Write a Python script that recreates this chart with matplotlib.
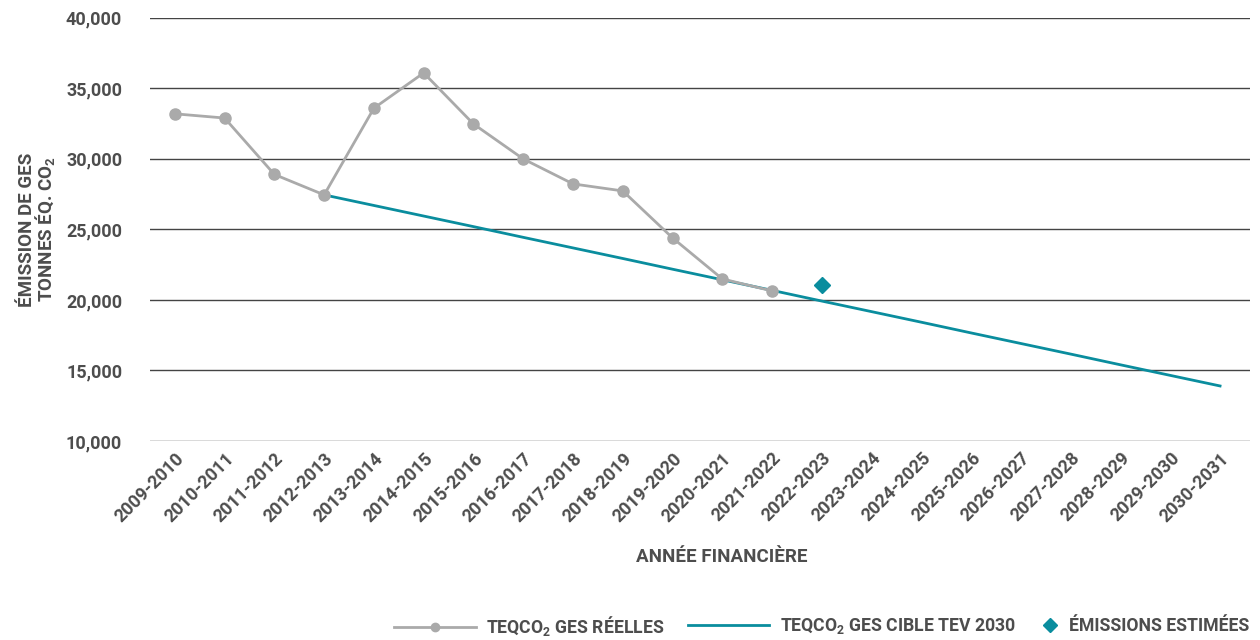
import matplotlib
matplotlib.use("Agg")
import matplotlib.pyplot as plt
from matplotlib.ticker import FuncFormatter
from matplotlib.lines import Line2D

plt.rcParams['font.family'] = ['Roboto', 'DejaVu Sans']
plt.rcParams['font.weight'] = 'bold'
plt.rcParams['axes.labelweight'] = 'bold'

years = ["2009-2010", "2010-2011", "2011-2012", "2012-2013", "2013-2014", "2014-2015",
         "2015-2016", "2016-2017", "2017-2018", "2018-2019", "2019-2020", "2020-2021",
         "2021-2022", "2022-2023", "2023-2024", "2024-2025", "2025-2026", "2026-2027",
         "2027-2028", "2028-2029", "2029-2030", "2030-2031"]

# actual emissions, 2009-2010 .. 2021-2022
actual = [33200, 32900, 28900, 27450, 33600, 36100, 32480, 30000, 28230, 27730,
          24400, 21490, 20640]

# target path, 2012-2013 .. 2030-2031
target = [27450, 26700, 25950, 25200, 24440, 23690, 22940, 22180, 21430, 20680,
          19920, 19170, 18420, 17660, 16910, 16160, 15400, 14650, 13900]

estimated_year = "2022-2023"
estimated = 21080

text_col = "#4d4d4d"
gray = "#aaaaaa"
teal = "#0a8d9e"

fig = plt.figure(figsize=(12.6, 6.4), dpi=100)
ax = fig.add_axes([0.119, 0.311, 0.873, 0.661])

x_actual = list(range(len(actual)))
x_target = list(range(3, 3 + len(target)))
x_est = years.index(estimated_year)

ax.plot(x_target, target, color=teal, lw=2, zorder=3)
ax.plot(x_actual, actual, color=gray, lw=2, marker="o", ms=8, zorder=4)
ax.plot([x_est], [estimated], color=teal, marker="D", ms=8, ls="none", zorder=5)

ax.set_ylim(10000, 40000)
ax.set_yticks(range(10000, 40001, 5000))
ax.yaxis.set_major_formatter(FuncFormatter(lambda v, p: f"{int(v):,}"))
ax.set_xlim(-0.5, 21.6)
ax.set_xticks(range(len(years)))
ax.set_xticklabels(years, rotation=45, ha="right", rotation_mode="anchor")

ax.grid(axis="y", color="#444444", lw=1)
ax.set_axisbelow(True)
for s in ax.spines.values():
    s.set_visible(False)
ax.tick_params(length=0, colors=text_col, labelsize=13)
ax.tick_params(axis="y", pad=20)
ax.tick_params(axis="x", pad=6)

ax.set_ylabel("ÉMISSION DE GES\nTONNES ÉQ. CO$_\\mathregular{2}$", color=text_col,
              fontsize=13.5, linespacing=0.85)
ax.yaxis.set_label_coords(-0.084, 0.5)
ax.set_xlabel("ANNÉE FINANCIÈRE", color=text_col, fontsize=13.5)
ax.xaxis.set_label_coords(0.52, -0.253)

# legend entries placed one by one along the bottom
entries = [
    (Line2D([], [], color=gray, lw=2, marker="o", ms=6),
     "TEQCO$_\\mathregular{2}$ GES RÉELLES", 0.313, 4.6),
    (Line2D([], [], color=teal, lw=2),
     "TEQCO$_\\mathregular{2}$ GES CIBLE TEV 2030", 0.546, 4.6),
    (Line2D([], [], color=teal, marker="D", ms=7, ls="none"),
     "ÉMISSIONS ESTIMÉES", 0.826, 1.0),
]
for handle, label, xpos, hl in entries:
    leg = fig.legend([handle], [label], loc="center left",
                     bbox_to_anchor=(xpos, 0.022), frameon=False, fontsize=12.7,
                     handlelength=hl, handletextpad=0.6, borderaxespad=0,
                     borderpad=0)
    for t in leg.get_texts():
        t.set_color(text_col)

fig.savefig("out.png", dpi=100)
